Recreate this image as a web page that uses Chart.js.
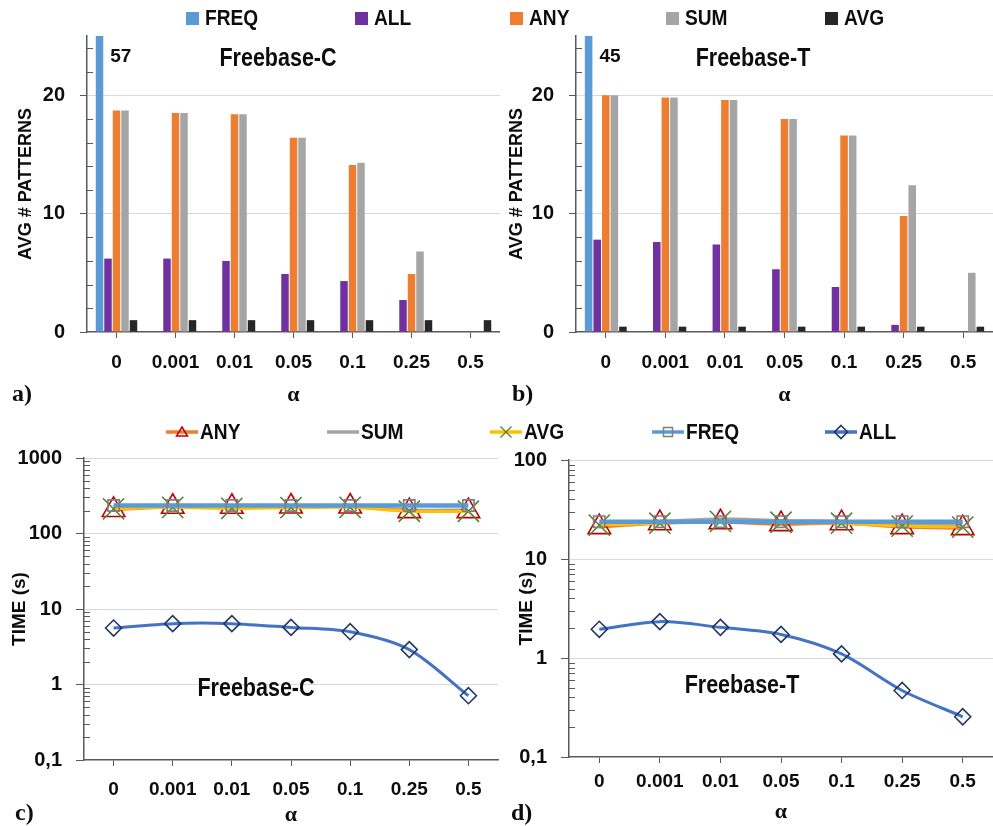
<!DOCTYPE html>
<html>
<head>
<meta charset="utf-8">
<script src="https://cdn.jsdelivr.net/npm/chart.js@4.4.1/dist/chart.umd.min.js"></script>
<style>
  html, body { margin: 0; padding: 0; background: #fff; }
  #page {
    position: relative; width: 993px; height: 826px; overflow: hidden;
    font-family: 'Liberation Sans', Arial, sans-serif;
    font-weight: bold; color: #0d0d0d;
  }
  canvas { position: absolute; }
  .leg { position: absolute; display: flex; align-items: center; font-size: 22px; white-space: nowrap; transform: translateY(-50%); }
  .leg .txt { display: inline-block; transform: scaleX(0.87); transform-origin: left center; }
  .sw { display: inline-block; width: 13px; height: 13px; margin-right: 6px; }
  .ttl { position: absolute; font-size: 25px; transform: translate(-50%, -50%) scaleX(0.86); white-space: nowrap; }
  .tag { position: absolute; font-family: 'Liberation Serif', 'Times New Roman', serif; font-size: 24px; font-weight: bold; transform: translateY(-50%); }
</style>
</head>
<body>
<div id="page">
  <canvas id="chartA" width="500" height="380" style="left:0;top:30px"></canvas>
  <canvas id="chartB" width="493" height="380" style="left:500px;top:30px"></canvas>
  <canvas id="chartC" width="500" height="386" style="left:0;top:440px"></canvas>
  <canvas id="chartD" width="493" height="386" style="left:500px;top:440px"></canvas>

  <div class="ttl" style="left:278px;top:57px">Freebase-C</div>
  <div class="ttl" style="left:753px;top:57px">Freebase-T</div>
  <div class="ttl" style="left:256px;top:687px">Freebase-C</div>
  <div class="ttl" style="left:742px;top:684px">Freebase-T</div>

  <div class="tag" style="left:12px;top:393px">a)</div>
  <div class="tag" style="left:512px;top:393px">b)</div>
  <div class="tag" style="left:15px;top:812px">c)</div>
  <div class="tag" style="left:511px;top:812px">d)</div>
</div>
<script>
// x categories (alpha)
const alphaLabels = ['0', '0.001', '0.01', '0.05', '0.1', '0.25', '0.5'];
const barSeries = ['FREQ', 'ALL', 'ANY', 'SUM', 'AVG'];
const lineSeries = ['ANY', 'SUM', 'AVG', 'FREQ', 'ALL'];

// a) Freebase-C: avg # patterns
const patC_FREQ = [57, null, null, null, null, null, null];
const patC_ALL  = [6.2, 6.2, 6.0, 4.9, 4.3, 2.7, 0];
const patC_ANY  = [18.7, 18.5, 18.4, 16.4, 14.1, 4.9, 0];
const patC_SUM  = [18.7, 18.5, 18.4, 16.4, 14.3, 6.8, 0];
const patC_AVG  = [1, 1, 1, 1, 1, 1, 1];

// b) Freebase-T: avg # patterns
const patT_FREQ = [45, null, null, null, null, null, null];
const patT_ALL  = [7.8, 7.6, 7.4, 5.3, 3.8, 0.6, 0];
const patT_ANY  = [20.0, 19.8, 19.6, 18.0, 16.6, 9.8, 0];
const patT_SUM  = [20.0, 19.8, 19.6, 18.0, 16.6, 12.4, 5.0];
const patT_AVG  = [0.45, 0.45, 0.45, 0.45, 0.45, 0.45, 0.45];

const patTicks = [0, 10, 20];
const patMinor = [2, 4, 6, 8, 12, 14, 16, 18, 22, 24];
const patMax = 25;

// c) Freebase-C: time (s)
const timeC_ANY  = [205, 226, 226, 228, 228, 198, 198];
const timeC_SUM  = [228, 232, 232, 232, 232, 205, 205];
const timeC_AVG  = [212, 222, 215, 220, 222, 197, 197];
const timeC_FREQ = [235, 235, 235, 235, 235, 235, 235];
const timeC_ALL  = [5.6, 6.4, 6.4, 5.7, 5.0, 2.9, 0.71];

// d) Freebase-T: time (s)
const timeT_ANY  = [21, 23, 23.5, 22.5, 23, 21, 20.5];
const timeT_SUM  = [23, 24, 25.5, 24.5, 24, 22.5, 22];
const timeT_AVG  = [22, 23, 24, 23.5, 23, 21.5, 21];
const timeT_FREQ = [23.8, 23.8, 23.8, 23.8, 23.8, 23.8, 23.8];
const timeT_ALL  = [1.95, 2.33, 2.04, 1.73, 1.1, 0.47, 0.255];

const timeTicksC = [0.1, 1, 10, 100, 1000];
const timeTicksT = [0.1, 1, 10, 100];

const FONT = "'Liberation Sans', Arial, sans-serif";
const SERIF = "'Liberation Serif', 'Times New Roman', serif";
const axisGray = '#595959';
const gridGray = '#D9D9D9';

const barColors = { FREQ: '#5B9BD5', ALL: '#7030A0', ANY: '#ED7D31', SUM: '#A5A5A5', AVG: '#262626' };
const lineStyle = {
    ANY:  { line: '#ED7D31', width: 3, marker: 'triangle', mark: '#C00000', r: 13, order: 3 },
    SUM:  { line: '#A5A5A5', width: 3, marker: null, order: 4 },
    AVG:  { line: '#FFC000', width: 3, marker: 'crossRot', mark: '#548235', r: 15, order: 2 },
    FREQ: { line: '#5B9BD5', width: 4.5, marker: 'rect', mark: '#7F7F7F', r: 8, order: 1 },
    ALL:  { line: '#4472C4', width: 3, marker: 'rectRot', mark: '#1F3864', r: 8, order: 0 }
};

Chart.defaults.font.family = FONT;
Chart.defaults.font.weight = 'bold';
Chart.defaults.color = '#0D0D0D';

// small inner tick marks on the value axis
const minorTicks = {
    id: 'minorTicks',
    afterDatasetsDraw(chart, args, opts) {
        const s = chart.scales.y;
        const ctx = chart.ctx;
        ctx.save();
        ctx.strokeStyle = axisGray;
        ctx.lineWidth = 1;
        (opts.values || []).forEach(v => {
            if (v <= s.min || v >= s.max) return;
            const py = Math.round(s.getPixelForValue(v)) + 0.5;
            ctx.beginPath();
            ctx.moveTo(s.right - 1, py);
            ctx.lineTo(s.right + 6, py);
            ctx.stroke();
        });
        ctx.restore();
    }
};

// value of the clipped FREQ bar
const freqLabel = {
    id: 'freqLabel',
    afterDatasetsDraw(chart) {
        const bar = chart.getDatasetMeta(0).data[0];
        const val = chart.data.datasets[0].data[0];
        const ctx = chart.ctx;
        ctx.save();
        ctx.font = 'bold 19px ' + FONT;
        ctx.fillStyle = '#0D0D0D';
        ctx.textBaseline = 'middle';
        ctx.fillText(String(val), bar.x + bar.width / 2 + 7, chart.chartArea.top + 21);
        ctx.restore();
    }
};

function fixY(w) {
    return s => { s.width = w; s.paddingTop = 0; s.paddingBottom = 0; };
}
function fixX(h) {
    return s => { s.height = h; s.paddingLeft = 0; s.paddingRight = 0; };
}

function barChart(id, series, yw, yTitlePad) {
    const datasets = barSeries.map((name, i) => ({
        label: name,
        data: series[i],
        backgroundColor: barColors[name],
        borderWidth: 0,
        clip: 0,
        categoryPercentage: 0.72,
        barPercentage: 0.88
    }));
    return new Chart(document.getElementById(id), {
        type: 'bar',
        data: { labels: alphaLabels, datasets: datasets },
        options: {
            responsive: false,
            animation: false,
            layout: { autoPadding: false, padding: { top: 6, right: 0, left: 0, bottom: 0 } },
            plugins: {
                legend: { display: false },
                tooltip: { enabled: false },
                minorTicks: { values: patMinor }
            },
            scales: {
                x: {
                    grid: { offset: false, drawOnChartArea: false, tickLength: 6, tickColor: axisGray },
                    border: { color: axisGray, width: 1.5 },
                    ticks: { font: { size: 19 }, padding: 13, maxRotation: 0 },
                    title: { display: true, text: 'α', font: { family: SERIF, size: 22, weight: 'bold', lineHeight: 1 }, padding: { top: 0, bottom: 4 } },
                    afterFit: fixX(78)
                },
                y: {
                    min: 0,
                    max: patMax,
                    afterBuildTicks: s => { s.ticks = patTicks.map(v => ({ value: v })); },
                    grid: {
                        color: c => (c.tick && c.tick.value === 0) ? 'rgba(0,0,0,0)' : gridGray,
                        tickColor: axisGray,
                        tickLength: 7
                    },
                    border: { color: axisGray, width: 1.5 },
                    ticks: { font: { size: 20 }, padding: 15 },
                    title: { display: true, text: 'AVG # PATTERNS', font: { size: 18 }, padding: { top: yTitlePad, bottom: 0 } },
                    afterFit: fixY(yw)
                }
            }
        },
        plugins: [minorTicks, freqLabel]
    });
}

function logMinor(ticks) {
    const out = [];
    for (let i = 0; i < ticks.length - 1; i++) {
        for (let k = 2; k <= 9; k++) out.push(+(ticks[i] * k).toPrecision(3));
    }
    return out;
}

function tickText(v) {
    return v < 1 ? String(v).replace('.', ',') : String(v);
}

function lineChart(id, series, ticks, geo) {
    const datasets = lineSeries.map((name, i) => {
        const st = lineStyle[name];
        return {
            label: name,
            data: series[i],
            borderColor: st.line,
            borderWidth: st.width,
            pointStyle: st.marker || 'circle',
            pointRadius: st.marker ? st.r : 0,
            pointBorderColor: st.mark,
            pointBackgroundColor: 'rgba(0,0,0,0)',
            pointBorderWidth: 1.6,
            tension: 0.3,
            order: st.order,
            clip: false
        };
    });
    return new Chart(document.getElementById(id), {
        type: 'line',
        data: { labels: alphaLabels, datasets: datasets },
        options: {
            responsive: false,
            animation: false,
            layout: { autoPadding: false, padding: { top: geo.padTop, right: geo.padRight, left: 0, bottom: 0 } },
            plugins: {
                legend: { display: false },
                tooltip: { enabled: false },
                minorTicks: { values: logMinor(ticks) }
            },
            scales: {
                x: {
                    offset: true,
                    grid: { offset: false, drawOnChartArea: false, tickLength: 6, tickColor: axisGray },
                    border: { color: axisGray, width: 1.5 },
                    ticks: { font: { size: 19 }, padding: geo.xPad, maxRotation: 0 },
                    title: { display: true, text: 'α', font: { family: SERIF, size: 22, weight: 'bold', lineHeight: 1 }, padding: { top: 0, bottom: geo.aPad } },
                    afterFit: fixX(geo.xh)
                },
                y: {
                    type: 'logarithmic',
                    min: ticks[0],
                    max: ticks[ticks.length - 1],
                    afterBuildTicks: s => { s.ticks = ticks.map(v => ({ value: v })); },
                    grid: {
                        color: c => (c.tick && c.tick.value === ticks[0]) ? 'rgba(0,0,0,0)' : gridGray,
                        tickColor: axisGray,
                        tickLength: 8
                    },
                    border: { color: axisGray, width: 1.5 },
                    ticks: { font: { size: 20 }, padding: 14, callback: v => tickText(v) },
                    title: { display: true, text: 'TIME (s)', font: { size: 19 }, padding: { top: geo.yTitlePad, bottom: 0 } },
                    afterFit: fixY(geo.yw)
                }
            }
        },
        plugins: [minorTicks]
    });
}

// legends shared by each row
function addBarLegend() {
    const page = document.getElementById('page');
    const xs = [186, 355, 510, 666, 825];
    barSeries.forEach((name, i) => {
        const d = document.createElement('div');
        d.className = 'leg';
        d.style.left = xs[i] + 'px';
        d.style.top = '18px';
        d.innerHTML = '<span class="sw" style="background:' + barColors[name] + '"></span><span class="txt">' + name + '</span>';
        page.appendChild(d);
    });
}

function markerSvg(st) {
    let m = '';
    const c = st.mark;
    if (st.marker === 'triangle') m = '<polygon points="16,3 21.5,12 10.5,12" fill="none" stroke="' + c + '" stroke-width="1.5"/>';
    if (st.marker === 'crossRot') m = '<path d="M10.5,2.5 L21.5,13.5 M21.5,2.5 L10.5,13.5" stroke="' + c + '" stroke-width="1.3"/>';
    if (st.marker === 'rect') m = '<rect x="11.5" y="3.5" width="9" height="9" fill="none" stroke="' + c + '" stroke-width="1.5"/>';
    if (st.marker === 'rectRot') m = '<polygon points="16,1.5 22.5,8 16,14.5 9.5,8" fill="none" stroke="' + c + '" stroke-width="1.6"/>';
    return '<svg width="32" height="16" style="margin-right:2px"><line x1="0" y1="8" x2="32" y2="8" stroke="' + st.line + '" stroke-width="3.5"/>' + m + '</svg>';
}

function addLineLegend() {
    const page = document.getElementById('page');
    const xs = [166, 327, 490, 652, 825];
    lineSeries.forEach((name, i) => {
        const d = document.createElement('div');
        d.className = 'leg';
        d.style.left = xs[i] + 'px';
        d.style.top = '432px';
        d.innerHTML = markerSvg(lineStyle[name]) + '<span class="txt">' + name + '</span>';
        page.appendChild(d);
    });
}

addBarLegend();
addLineLegend();

barChart('chartA', [patC_FREQ, patC_ALL, patC_ANY, patC_SUM, patC_AVG], 87, 15);
barChart('chartB', [patT_FREQ, patT_ALL, patT_ANY, patT_SUM, patT_AVG], 76, 6);

lineChart('chartC', [timeC_ANY, timeC_SUM, timeC_AVG, timeC_FREQ, timeC_ALL], timeTicksC,
    { yw: 84, xh: 66, padTop: 18, padRight: 2, xPad: 12, aPad: 0, yTitlePad: 8 });
lineChart('chartD', [timeT_ANY, timeT_SUM, timeT_AVG, timeT_FREQ, timeT_ALL], timeTicksT,
    { yw: 69, xh: 69, padTop: 20, padRight: 0, xPad: 7, aPad: 3, yTitlePad: 15 });
</script>
</body>
</html>
